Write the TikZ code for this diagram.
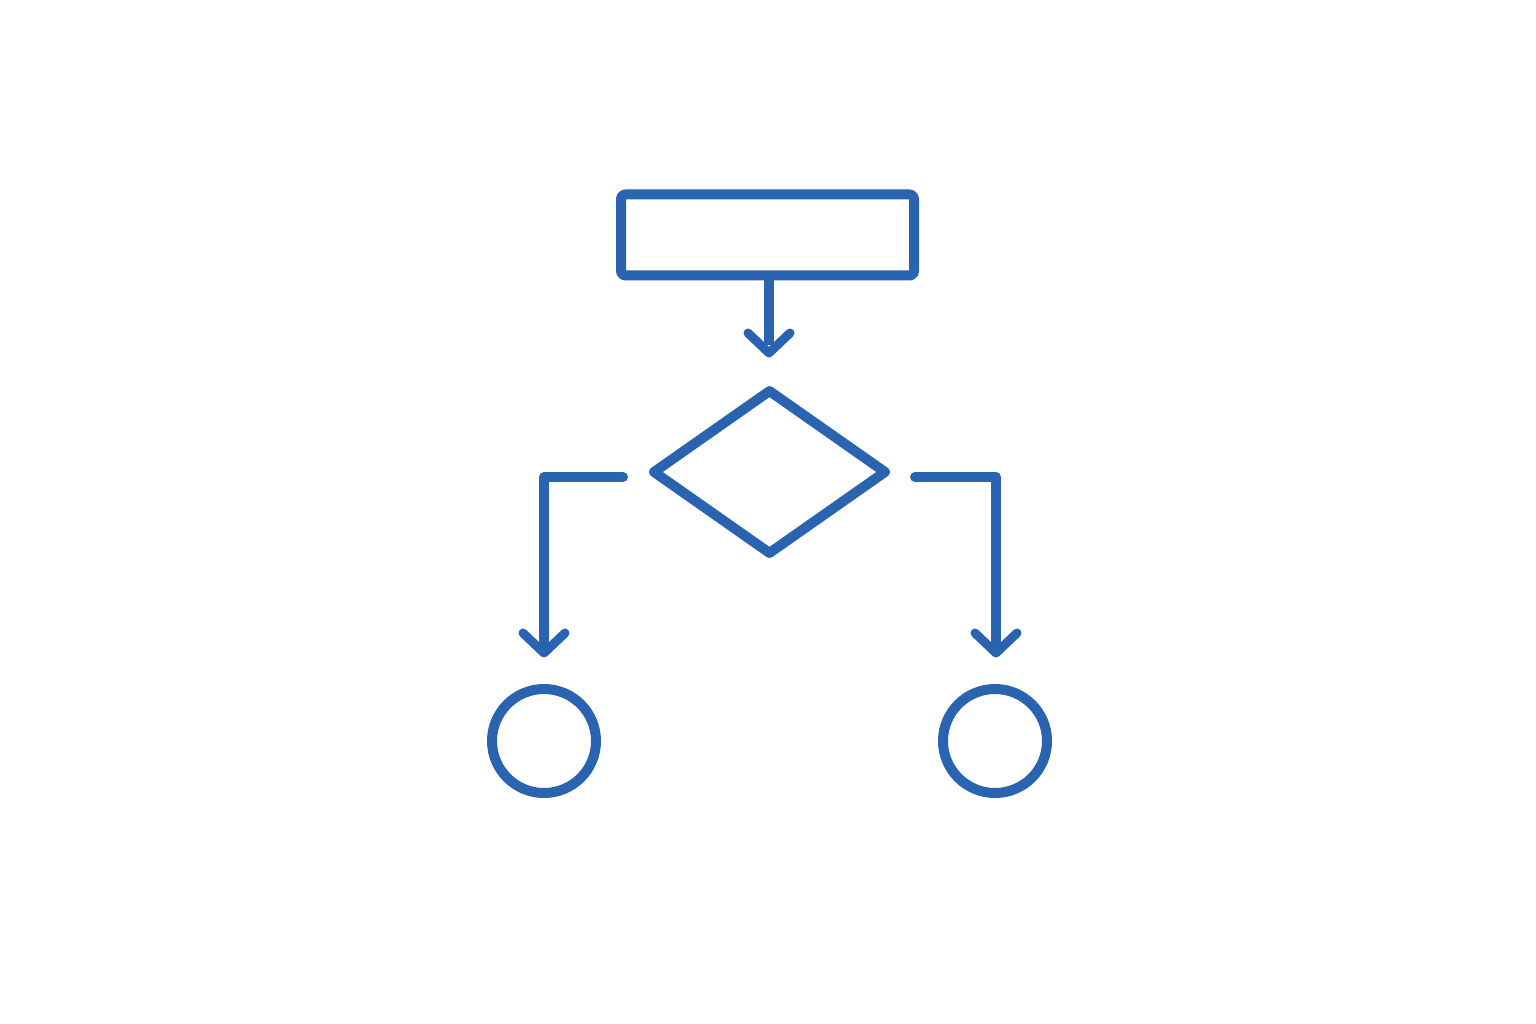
\documentclass[tikz,border=0pt]{standalone}
\usetikzlibrary{shapes.geometric}
\definecolor{iconblue}{HTML}{2A63B0}
\begin{document}
\begin{tikzpicture}[x=1pt,y=-1pt,
  ln/.style={draw=iconblue,line width=10pt,line cap=round,line join=round},
  arm/.style={draw=iconblue,line width=9pt,line cap=round,line join=round},
  box/.style={ln,rectangle,rounded corners=4pt,inner sep=0pt,minimum width=293pt,minimum height=81pt},
  dec/.style={ln,diamond,inner sep=0pt,minimum width=235pt,minimum height=166pt},
  term/.style={ln,circle,inner sep=0pt,minimum size=104pt}]
\useasboundingbox (0,0) rectangle (1536,1024);
\node[box] (proc) at (767.5,235) {};
\node[dec] (dec) at (769.5,472) {};
\node[term] (endL) at (544,741) {};
\node[term] (endR) at (995,741) {};
% top arrow
\coordinate (t1) at (769,353);
\draw[ln,line cap=butt] (proc.south -| t1) -- ([yshift=8pt]t1);
\draw[arm] ([xshift=-21pt,yshift=20pt]t1) -- (t1) -- ([xshift=21pt,yshift=20pt]t1);
% left branch
\coordinate (sL) at (623,477);
\coordinate (cL) at (544,477);
\coordinate (t2) at (544,653);
\draw[ln] (sL) -- (cL) -- ([yshift=10pt]t2);
\draw[arm] ([xshift=-21pt,yshift=20pt]t2) -- (t2) -- ([xshift=21pt,yshift=20pt]t2);
% right branch
\coordinate (sR) at (915,477);
\coordinate (cR) at (996,477);
\coordinate (t3) at (996,653);
\draw[ln] (sR) -- (cR) -- ([yshift=10pt]t3);
\draw[arm] ([xshift=-21pt,yshift=20pt]t3) -- (t3) -- ([xshift=21pt,yshift=20pt]t3);
\end{tikzpicture}
\end{document}
